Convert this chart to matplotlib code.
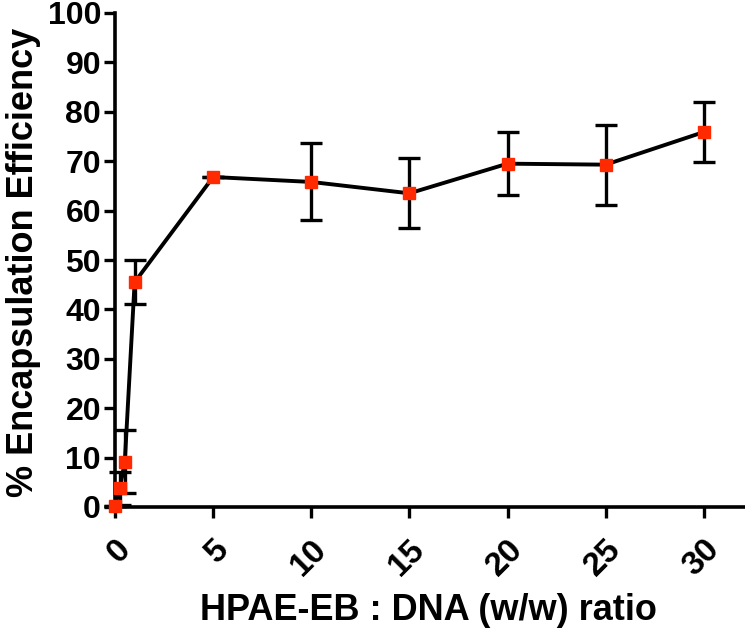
import matplotlib
matplotlib.use("Agg")
import matplotlib.pyplot as plt

ratio = [0, 0.25, 0.5, 1, 5, 10, 15, 20, 25, 30]
efficiency = [0.2, 3.8, 9.2, 45.5, 66.8, 65.8, 63.5, 69.5, 69.3, 75.9]
error = [0, 3.3, 6.4, 4.5, 0, 7.8, 7.1, 6.4, 8.1, 6.1]
x_ticks = [0, 5, 10, 15, 20, 25, 30]
y_ticks = list(range(0, 101, 10))

plt.rcParams["font.family"] = ["Liberation Sans", "DejaVu Sans"]
plt.rcParams["font.weight"] = "bold"

fig = plt.figure(figsize=(7.45, 6.29), dpi=100)
ax = fig.add_axes([115 / 745, 122 / 629, 630 / 745, 494 / 629])

ax.errorbar(ratio, efficiency, yerr=error, color="black", linewidth=2.8,
            elinewidth=2.4, capsize=8, capthick=2.4, zorder=2, clip_on=False)
ax.plot(ratio, efficiency, linestyle="none", marker="s", markersize=8,
        color="#ff2a00", zorder=3, clip_on=False)

ax.set_xlim(0, 32.1)
ax.set_ylim(0, 100)
ax.set_xticks(x_ticks)
ax.set_yticks(y_ticks)
ax.set_xticklabels([str(t) for t in x_ticks], rotation=45, ha="right",
                   rotation_mode="anchor", fontsize=24, fontweight="bold")
ax.set_yticklabels([str(t) for t in y_ticks], fontsize=23, fontweight="bold")

for side in ["top", "right"]:
    ax.spines[side].set_visible(False)
for side in ["left", "bottom"]:
    ax.spines[side].set_linewidth(2.6)
ax.tick_params(width=2.4, length=8, pad=2)
ax.tick_params(axis="x", pad=11)

ax.set_xlabel("HPAE-EB : DNA (w/w) ratio", fontsize=26, fontweight="bold")
ax.xaxis.set_label_coords(0.498, -0.229)
ax.xaxis.label.set_va("baseline")
ax.set_ylabel("% Encapsulation Efficiency", fontsize=26, fontweight="bold")
ax.yaxis.set_label_coords(-0.118, 0.496)
ax.yaxis.label.set_va("bottom")

fig.savefig("out.png", dpi=100)
